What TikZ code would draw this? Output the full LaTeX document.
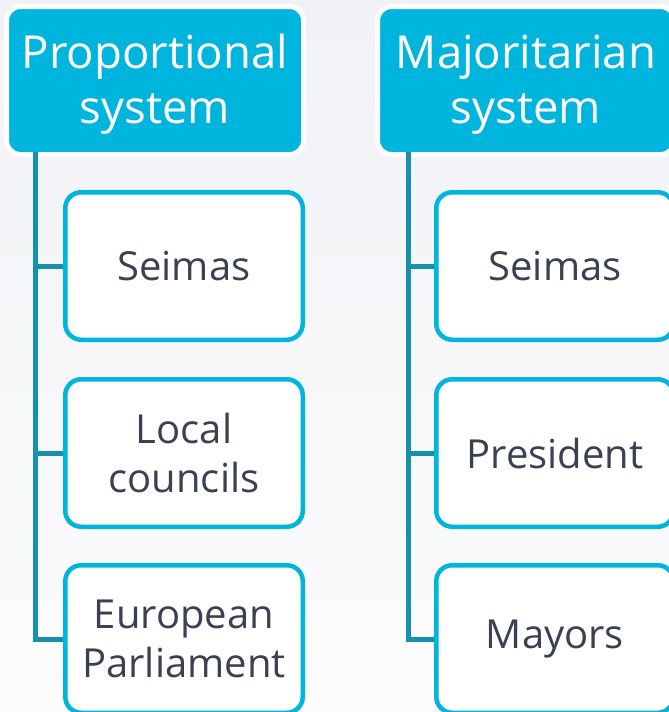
\documentclass[tikz,border=0pt]{standalone}
\usepackage{fontspec}
\setmainfont{Open Sans}
\definecolor{hdr}{HTML}{00B5DD}
\definecolor{conn}{HTML}{1591AC}
\definecolor{txt}{HTML}{3B4052}
\definecolor{bgtop}{HTML}{F1F2F6}
\definecolor{bgbot}{HTML}{FCFCFD}
\newcommand{\hdrtext}[2]{\raisebox{-4pt}[\height][\depth]{\begin{tabular}{@{}c@{}}#1\\#2\end{tabular}}}
\begin{document}
\begin{tikzpicture}[x=1pt,y=-1pt,
  header/.style={fill=hdr, draw=white, line width=5pt, rounded corners=14pt,
    minimum width=297pt, minimum height=148pt, inner sep=0pt, align=center,
    text=white, font=\fontsize{45.5}{55}\selectfont},
  child/.style={fill=white, draw=hdr, line width=4.5pt, rounded corners=16pt,
    minimum width=237.5pt, minimum height=147.5pt, inner sep=0pt, align=center,
    text=txt, font=\fontsize{40}{49}\selectfont},
  connector/.style={draw=conn, line width=5pt}]
\useasboundingbox (0,0) rectangle (669,712);
\shade[top color=bgtop, bottom color=bgbot] (0,0) rectangle (669,712);
% left column
\node[header] (hL) at (155,80.5) {\hdrtext{Proportional}{system}};
\node[child] (l1) at (184,266) {Seimas};
\node[child] (l2) at (184,453) {Local\\councils};
\node[child] (l3) at (184,639) {European\\Parliament};
\coordinate (tL) at (35.5,152);
\draw[connector] (tL) |- (l3.west);
\draw[connector] (tL |- l1.west) -- (l1.west);
\draw[connector] (tL |- l2.west) -- (l2.west);
% right column
\node[header] (hR) at (526,80.5) {\hdrtext{Majoritarian}{system}};
\node[child] (r1) at (555,266) {Seimas};
\node[child] (r2) at (555,453) {President};
\node[child] (r3) at (555,639) {Mayors};
\coordinate (tR) at (408,152);
\draw[connector] (tR) |- (r3.west);
\draw[connector] (tR |- r1.west) -- (r1.west);
\draw[connector] (tR |- r2.west) -- (r2.west);
\end{tikzpicture}
\end{document}
